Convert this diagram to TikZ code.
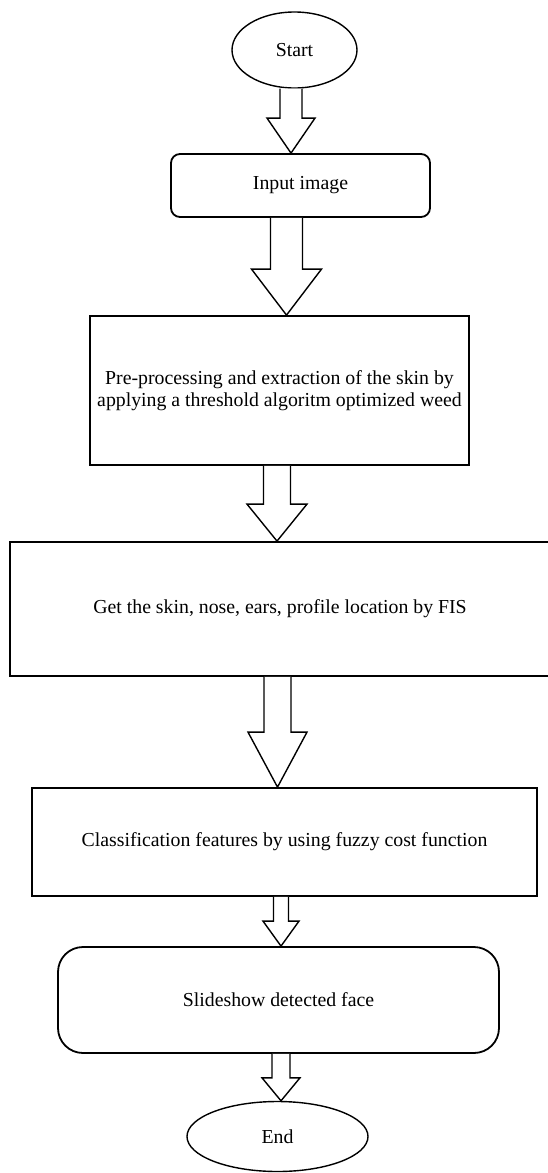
\documentclass[tikz,border=0pt]{standalone}
\usepackage{fontspec}
\setmainfont{Liberation Serif}
\usepackage{tikz}
\usetikzlibrary{calc,shapes.geometric}

% hollow block arrow: from, to, x shift, half shaft, half head, head length
\newcommand{\flowarrow}[6]{%
  \draw[hollow] let \p1=(#1.south), \p2=(#2.north) in
    (\x2+#3-#4,\y1) -- (\x2+#3-#4,\y2+#6) -- (\x2+#3-#5,\y2+#6) -- (\x2+#3,\y2)
    -- (\x2+#3+#5,\y2+#6) -- (\x2+#3+#4,\y2+#6) -- (\x2+#3+#4,\y1);}

\begin{document}
\begin{tikzpicture}[x=1pt, y=-1pt,
        terminal/.style={ellipse, draw, line width=1.4pt, inner sep=0pt, font=\fontsize{19.8}{22.5}\selectfont},
        plainbox/.style={draw, line width=1.8pt, inner sep=0pt, align=center, font=\fontsize{19.8}{22.5}\selectfont},
        roundbox/.style={plainbox, rounded corners=#1},
        hollow/.style={draw, line width=1.4pt, line join=miter, fill=white}
      ]
      \useasboundingbox (0,0) rectangle (548,1173);

      \node[terminal, minimum width=125pt, minimum height=76pt] (start) at (294.5,50) {Start};
      \node[roundbox=9pt, minimum width=259pt, minimum height=63pt] (input) at (300.5,185.5) {Input image};
      \node[plainbox, minimum width=379pt, minimum height=149pt] (prep) at (279.5,390.5)
        {Pre-processing and extraction of the skin by\\applying a threshold algoritm optimized weed};
      \node[plainbox, minimum width=540pt, minimum height=134pt] (locate) at (280,609)
        {Get the skin, nose, ears, profile location by FIS};
      \node[plainbox, minimum width=505pt, minimum height=108pt] (classify) at (284.5,842)
        {Classification features by using fuzzy cost function};
      \node[roundbox=25pt, minimum width=441pt, minimum height=106pt] (show) at (278.5,1000)
        {Slideshow detected face};
      \node[terminal, minimum width=181pt, minimum height=70pt] (finish) at (277.5,1136.5) {End};

      \flowarrow{start}{input}{-9.5pt}{11pt}{24pt}{35pt}
      \flowarrow{input}{prep}{7pt}{16pt}{35pt}{46pt}
      \flowarrow{prep}{locate}{-3pt}{13.5pt}{30pt}{37pt}
      \flowarrow{locate}{classify}{-7pt}{13.5pt}{29.5pt}{55pt}
      \flowarrow{classify}{show}{2.5pt}{7.5pt}{18pt}{25pt}
      \flowarrow{show}{finish}{3.5pt}{9pt}{19pt}{23pt}
    \end{tikzpicture}
\end{document}
